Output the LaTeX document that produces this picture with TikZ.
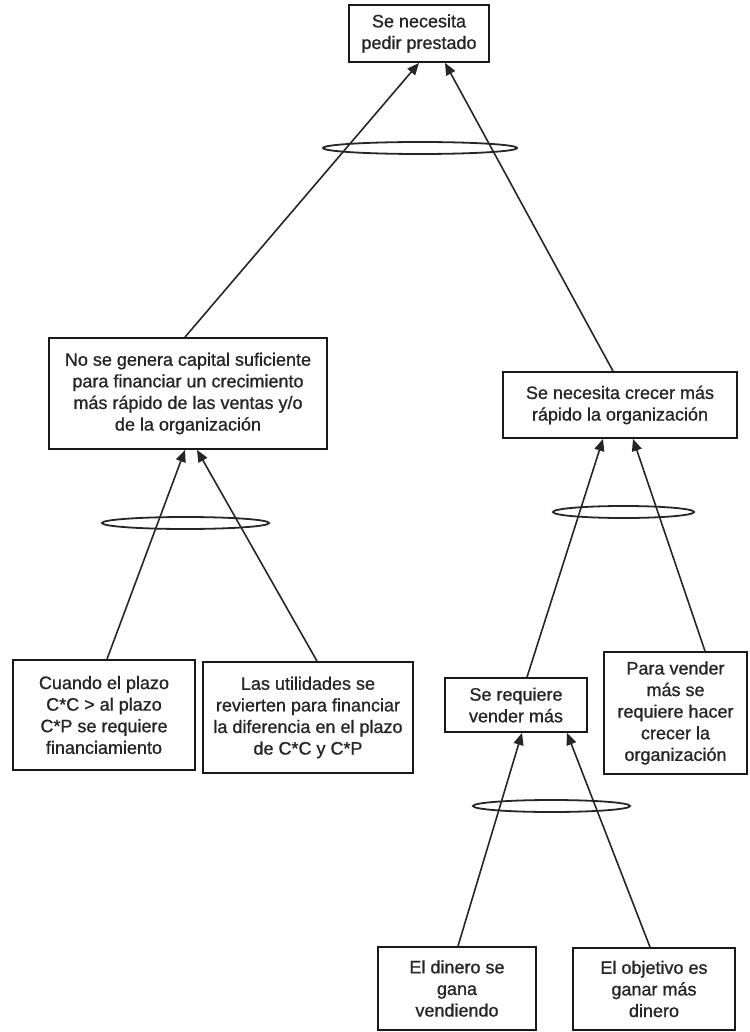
\documentclass[tikz,border=0pt]{standalone}
\usepackage{fontspec}
\setmainfont{Liberation Sans}[FakeBold=1.0]
\usetikzlibrary{shapes.geometric,arrows.meta}
\begin{document}
\begin{tikzpicture}[x=1pt,y=-1pt,
  box/.style={draw=black!90, line width=1.8pt, rectangle, inner sep=2pt,
    align=center, text=black!85,
    font=\fontsize{18}{21.6}\selectfont},
  arr/.style={draw=black!85, line width=1.6pt,
    -{Triangle[length=12pt,width=10pt]}},
  andring/.style={draw=black!85, line width=1.8pt, ellipse, inner sep=0pt,
    minimum height=12pt}]
\useasboundingbox (0,0) rectangle (749,1032);

% boxes
\node[box, minimum width=140pt, minimum height=57pt] (top) at (419,33.5)
  {Se necesita\\pedir prestado};
\node[box, minimum width=278pt, minimum height=111pt] (L) at (188,393.5)
  {No se genera capital suficiente\\para financiar un crecimiento\\más rápido de las ventas y/o\\de la organización};
\node[box, minimum width=234pt, minimum height=66pt] (R) at (620,405)
  {Se necesita crecer más\\rápido la organización};
\node[box, minimum width=182pt, minimum height=110pt] (cuando) at (104,715)
  {Cuando el plazo\\C*C > al plazo\\C*P se requiere\\financiamiento};
\node[box, minimum width=210pt, minimum height=111pt] (las) at (308,717.5)
  {Las utilidades se\\revierten para financiar\\la diferencia en el plazo\\de C*C y C*P};
\node[box, minimum width=142pt, minimum height=54pt] (vender) at (516,705)
  {Se requiere\\vender más};
\node[box, minimum width=143pt, minimum height=122pt] (para) at (675.5,713)
  {Para vender\\más se\\requiere hacer\\crecer la\\organización};
\node[box, minimum width=158pt, minimum height=83pt] (dinero) at (457,988.5)
  {El dinero se\\gana\\vendiendo};
\node[box, minimum width=162pt, minimum height=82pt] (objetivo) at (654,989)
  {El objetivo es\\ganar más\\dinero};

% connectors
\draw[arr] ([xshift=-3pt]L.north) -- ([xshift=0pt]top.south);
\draw[arr] ([xshift=-7pt]R.north) -- ([xshift=26pt]top.south);
\draw[arr] ([xshift=3pt]cuando.north) -- ([xshift=-3pt]L.south);
\draw[arr] ([xshift=9pt]las.north) -- ([xshift=9pt]L.south);
\draw[arr] ([xshift=11pt]vender.north) -- ([xshift=-17pt]R.south);
\draw[arr] ([xshift=29.5pt]para.north) -- ([xshift=13pt]R.south);
\draw[arr] ([xshift=1pt]dinero.north) -- ([xshift=6pt]vender.south);
\draw[arr] ([xshift=-4pt]objetivo.north) -- ([xshift=51pt]vender.south);

% "and" rings across paired connectors
\node[andring, minimum width=194pt] (and1) at (420,148) {};
\node[andring, minimum width=167pt] (and2) at (185.5,523) {};
\node[andring, minimum width=141pt] (and3) at (623.5,512) {};
\node[andring, minimum width=157pt] (and4) at (551.5,806) {};
\end{tikzpicture}
\end{document}
